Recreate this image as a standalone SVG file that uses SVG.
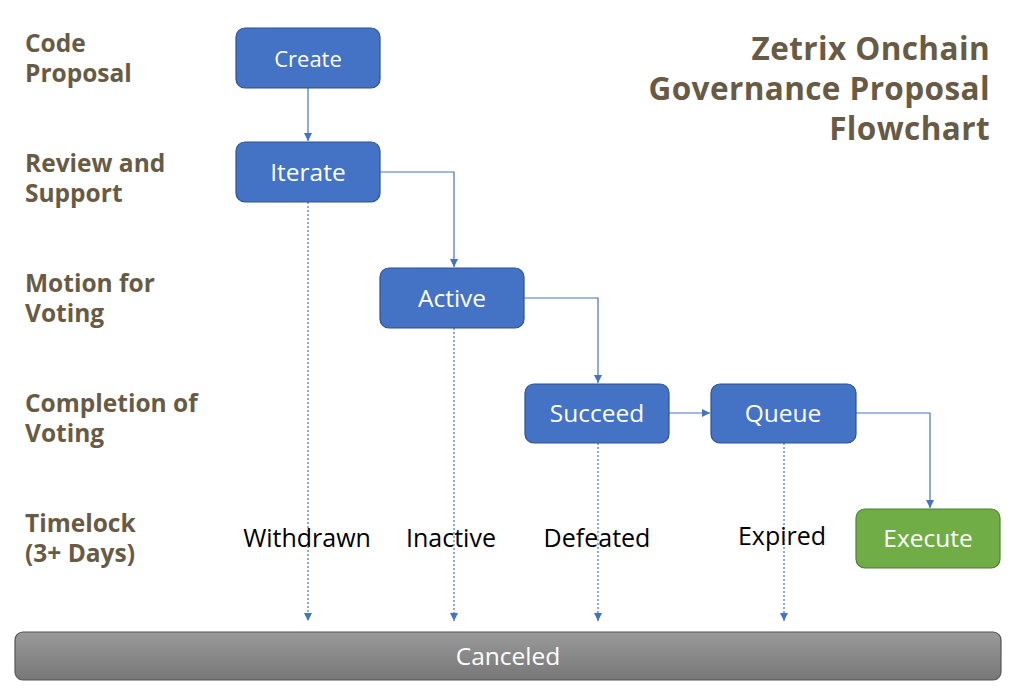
<svg xmlns="http://www.w3.org/2000/svg" width="1015" height="691" viewBox="0 0 1015 691">
<style>
.lbl{font-family:"Open Sans","Liberation Sans",sans-serif;font-weight:bold;font-size:24.5px;fill:#675B45}
.ttl{font-family:"Open Sans","Liberation Sans",sans-serif;font-weight:bold;font-size:31.5px;letter-spacing:0.4px;fill:#675B45;text-anchor:end}
.nt{font-family:"Open Sans","Liberation Sans",sans-serif;font-size:24.5px;fill:#fff;text-anchor:middle;dominant-baseline:central}
.st{font-family:"Open Sans","Liberation Sans",sans-serif;font-size:25px;fill:#000;text-anchor:middle}
.blue{fill:#4472C4;stroke:#2F528F;stroke-width:1.2}
.green{fill:#70AD47;stroke:#507E32;stroke-width:1.2}
.c{fill:none;stroke:#4472C4;stroke-width:1.2;marker-end:url(#ah)}
.d{fill:none;stroke:#4472C4;stroke-width:1.2;stroke-dasharray:2 2;marker-end:url(#ah)}
</style>
<defs>
<marker id="ah" viewBox="0 0 10 10" refX="10" refY="5" markerWidth="8" markerHeight="8" markerUnits="userSpaceOnUse" orient="auto">
<path d="M0,0 L10,5 L0,10 z" fill="#4472C4"/>
</marker>
<linearGradient id="gg" x1="0" y1="0" x2="0" y2="1">
<stop offset="0" stop-color="#9A9A9A"/>
<stop offset="1" stop-color="#777"/>
</linearGradient>
</defs>
<rect width="1015" height="691" fill="#fff"/>
<g id="labels">
<text class="lbl" x="25" y="52">Code</text>
<text class="lbl" x="25" y="82">Proposal</text>
<text class="lbl" x="25" y="172">Review and</text>
<text class="lbl" x="25" y="202">Support</text>
<text class="lbl" x="25" y="292">Motion for</text>
<text class="lbl" x="25" y="322">Voting</text>
<text class="lbl" x="25" y="412">Completion of</text>
<text class="lbl" x="25" y="442">Voting</text>
<text class="lbl" x="25" y="532">Timelock</text>
<text class="lbl" x="25" y="562">(3+ Days)</text>
</g>
<g id="title">
<text class="ttl" x="990" y="60">Zetrix Onchain</text>
<text class="ttl" x="990" y="100">Governance Proposal</text>
<text class="ttl" x="990" y="140">Flowchart</text>
</g>
<g id="connectors">
<path class="c" d="M308,88 V141"/>
<path class="c" d="M380,172 H454 V267"/>
<path class="c" d="M524,298 H598 V383"/>
<path class="c" d="M669,413 H710"/>
<path class="c" d="M856,413 H930 V508"/>
<path class="d" d="M308,202 V621"/>
<path class="d" d="M454,328 V621"/>
<path class="d" d="M598,443 V621"/>
<path class="d" d="M784,443 V621"/>
</g>
<g id="state-labels">
<text class="st" x="307" y="547">Withdrawn</text>
<text class="st" x="451" y="547">Inactive</text>
<text class="st" x="597" y="547">Defeated</text>
<text class="st" x="782" y="545">Expired</text>
</g>
<g id="create"><rect class="blue" x="236" y="28" width="144" height="60" rx="9"/><text class="nt" x="308" y="58" style="font-size:22px">Create</text></g>
<g id="iterate"><rect class="blue" x="236" y="142" width="144" height="60" rx="9"/><text class="nt" x="308" y="171">Iterate</text></g>
<g id="active"><rect class="blue" x="380" y="268" width="144" height="60" rx="9"/><text class="nt" x="452" y="297">Active</text></g>
<g id="succeed"><rect class="blue" x="525" y="384" width="144" height="59" rx="9"/><text class="nt" x="597" y="412">Succeed</text></g>
<g id="queue"><rect class="blue" x="711" y="384" width="145" height="59" rx="9"/><text class="nt" x="783" y="412">Queue</text></g>
<g id="execute"><rect class="green" x="856" y="509" width="144" height="59" rx="9"/><text class="nt" x="928" y="537">Execute</text></g>
<g id="canceled"><rect x="15" y="632" width="986" height="48" rx="8" fill="url(#gg)" stroke="#555" stroke-width="1.2"/><text class="nt" x="508" y="655">Canceled</text></g>
</svg>
